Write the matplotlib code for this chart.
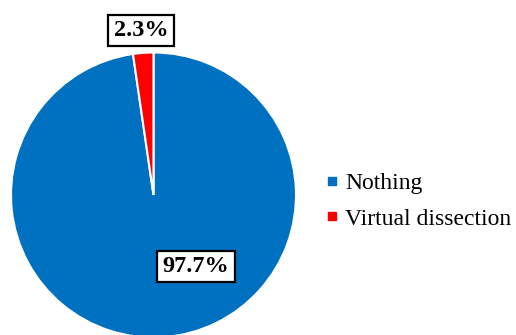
import matplotlib.pyplot as plt
from matplotlib.lines import Line2D

labels = ['Nothing', 'Virtual dissection']
values = [97.7, 2.3]
colors = ['#0070C0', '#FF0000']
label_pos = [(0.298, -0.502), (-0.088, 1.154)]

plt.rcParams['font.family'] = 'Liberation Serif'

fig = plt.figure(figsize=(5.16, 3.35), dpi=100)
W, H = 516, 335
# pie axes placed in pixel units
ax = fig.add_axes([11 / W, -2.5 / H, 285 / W, 285 / H])

ax.pie(values, colors=colors, startangle=90, counterclock=False,
       wedgeprops=dict(edgecolor='white', linewidth=1.5))
ax.set_xlim(-1, 1)
ax.set_ylim(-1, 1)
ax.set_aspect('equal')
ax.axis('off')

for v, (x, y) in zip(values, label_pos):
    ax.text(x, y, '{:.1f}%'.format(v), ha='center', va='center',
            fontsize=17.5, fontweight='bold', clip_on=False,
            bbox=dict(boxstyle='square,pad=0.22', facecolor='white',
                      edgecolor='black', linewidth=1.6))

handles = [Line2D([], [], marker='s', linestyle='none', markersize=5.5,
                  markerfacecolor=c, markeredgecolor=c) for c in colors]
fig.legend(handles, labels, loc='center left', bbox_to_anchor=(326 / W, 1 - 201 / H),
           frameon=False, fontsize=17, handlelength=0.55, handletextpad=0.25,
           labelspacing=0.6, borderpad=0, borderaxespad=0)

fig.savefig('out.png', dpi=100)
